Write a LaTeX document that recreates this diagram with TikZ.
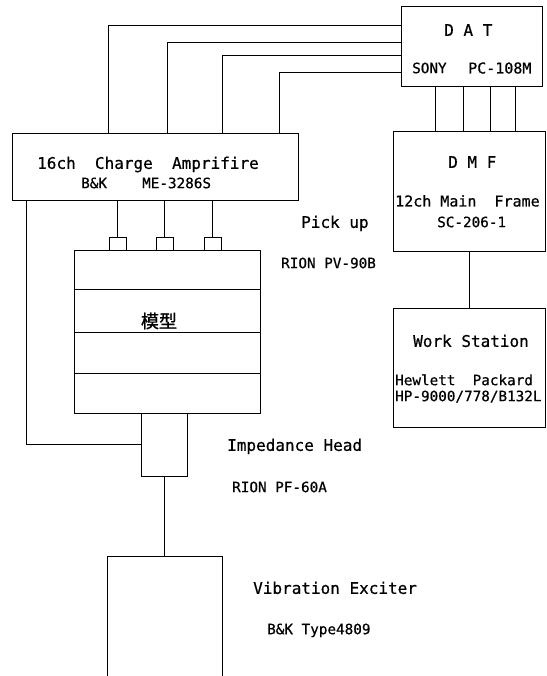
\documentclass[tikz,border=0pt]{standalone}
\usepackage{fontspec}
\newfontfamily\monof[FakeBold=0.6]{DejaVu Sans Mono}
\newfontfamily\cjkf[FakeBold=1.2]{Noto Sans CJK JP}
\begin{document}
\begin{tikzpicture}[x=1pt,y=-1pt,
  box/.style={draw,line width=0.9pt,inner sep=0pt,outer sep=0pt},
  wire/.style={line width=0.9pt},
  bigt/.style={font=\monof\fontsize{16}{16}\selectfont,inner sep=0pt,anchor=west,text height=11.7pt,text depth=0pt},
  midt/.style={font=\monof\fontsize{15}{15}\selectfont,inner sep=0pt,anchor=west,text height=11pt,text depth=0pt},
  smallt/.style={font=\monof\fontsize{14.3}{14.3}\selectfont,inner sep=0pt,anchor=west,text height=10.4pt,text depth=0pt}]
\useasboundingbox (0,0) rectangle (546,676);
% boxes
\node[box,minimum width=141pt,minimum height=80pt] (dat) at (471.5,46) {};
\node[box,minimum width=286pt,minimum height=67pt] (amp) at (155,166.5) {};
\node[box,minimum width=152pt,minimum height=120pt] (dmf) at (469,191) {};
\node[box,minimum width=152pt,minimum height=119pt] (ws) at (469,367.5) {};
\node[box,minimum width=186pt,minimum height=163pt] (model) at (167,331.5) {};
\node[box,minimum width=17pt,minimum height=13pt] (p1) at (117.5,243.5) {};
\node[box,minimum width=17pt,minimum height=13pt] (p2) at (164.5,243.5) {};
\node[box,minimum width=17pt,minimum height=13pt] (p3) at (212.5,243.5) {};
\node[box,minimum width=46pt,minimum height=63pt] (imp) at (164,444.5) {};
\node[box,minimum width=115pt,minimum height=134pt] (exc) at (164.5,623) {};
% model dividers
\draw[wire] (model.west |- 0,289) -- (model.east |- 0,289);
\draw[wire] (model.west |- 0,332) -- (model.east |- 0,332);
\draw[wire] (model.west |- 0,373) -- (model.east |- 0,373);
% DAT to amplifier
\draw[wire] (dat.west |- 0,25) -| (amp.north -| 108,0);
\draw[wire] (dat.west |- 0,42) -| (amp.north -| 167,0);
\draw[wire] (dat.west |- 0,55) -| (amp.north -| 222,0);
\draw[wire] (dat.west |- 0,72) -| (amp.north -| 279,0);
% DAT to DMF
\draw[wire] (dat.south -| 435,0) -- (dmf.north -| 435,0);
\draw[wire] (dat.south -| 463,0) -- (dmf.north -| 463,0);
\draw[wire] (dat.south -| 490,0) -- (dmf.north -| 490,0);
\draw[wire] (dat.south -| 515,0) -- (dmf.north -| 515,0);
% DMF to WS
\draw[wire] (dmf.south) -- (ws.north);
% amp to pickups
\draw[wire] (amp.south -| p1.north) -- (p1.north);
\draw[wire] (amp.south -| p2.north) -- (p2.north);
\draw[wire] (amp.south -| p3.north) -- (p3.north);
% amp to impedance head
\draw[wire] (amp.south -| 26,0) |- (imp.west);
% impedance head to exciter
\draw[wire] (imp.south) -- (exc.north -| imp.south);
% texts
\node[bigt] (tdat) at (444,30) {D A T};
\node[smallt] (tsony) at (412,68) {SONY};
\node[midt] (tpc) at (468,68) {PC-108M};
\node[bigt] (tamp) at (37,163) {16ch\ \ Charge\ \ Amprifire};
\node[smallt] (tbk) at (81,183) {B\&K};
\node[smallt] (tme) at (142,183) {ME-3286S};
\node[bigt] (tpick) at (301,222) {Pick up};
\node[smallt] (tpv) at (281,263) {RION PV-90B};
\node[font=\cjkf\fontsize{18}{18}\selectfont,inner sep=0pt] (tmodel) at (159,321) {模型};
\node[bigt] (tdmf) at (448,162) {D M F};
\node[midt] (tmain) at (395,201) {12ch Main\ \ Frame};
\node[smallt] (tsc) at (437,222) {SC-206-1};
\node[bigt] (tws) at (413,341) {Work Station};
\node[smallt] (thew) at (395,380) {Hewlett\ \ Packard};
\node[smallt] (thp) at (395,396) {HP-9000/778/B132L};
\node[bigt] (timp) at (227,445) {Impedance Head};
\node[smallt] (tpf) at (232,487) {RION PF-60A};
\node[bigt] (tvib) at (253,588) {Vibration Exciter};
\node[smallt] (ttype) at (267,629) {B\&K Type4809};
\end{tikzpicture}
\end{document}
